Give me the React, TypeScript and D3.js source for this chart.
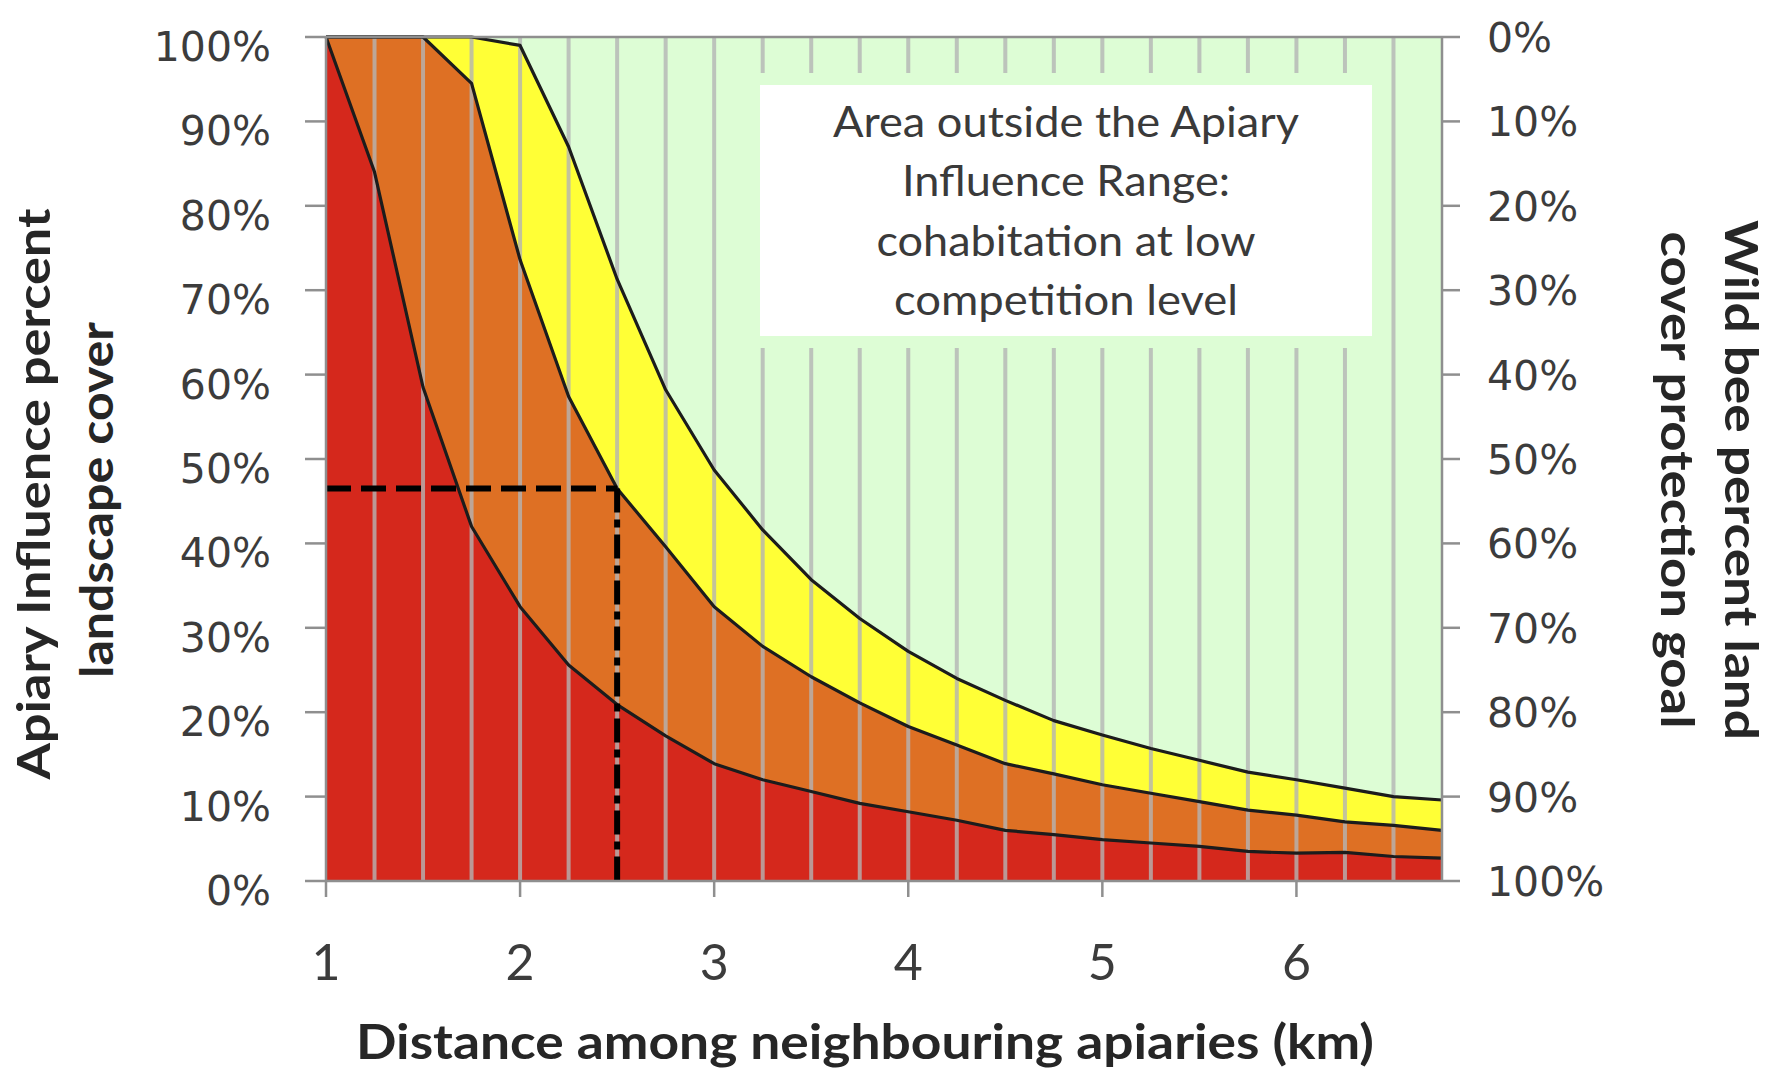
import React from "react";
import * as d3 from "d3";

// ---- data ----
const distances = [1, 1.25, 1.5, 1.75, 2, 2.25, 2.5, 2.75, 3, 3.25, 3.5, 3.75, 4, 4.25, 4.5, 4.75, 5, 5.25, 5.5, 5.75, 6, 6.25, 6.5, 6.75];
// upper boundary of the red band (% cover)
const redTop = [100, 84, 58.5, 42, 32.5, 25.6, 20.9, 17.2, 13.9, 12.0, 10.6, 9.2, 8.2, 7.2, 6.0, 5.5, 4.9, 4.5, 4.1, 3.5, 3.3, 3.4, 2.9, 2.7];
// upper boundary of the orange band
const orangeTop = [100, 100, 100, 94.5, 73.6, 57.4, 46.5, 39.6, 32.5, 27.8, 24.2, 21.1, 18.3, 16.1, 13.9, 12.7, 11.4, 10.4, 9.4, 8.4, 7.8, 7.0, 6.6, 6.0];
// upper boundary of the yellow band
const yellowTop = [100, 100, 100, 100, 99, 87, 71.3, 58.2, 48.7, 41.6, 35.7, 31.1, 27.2, 24.0, 21.4, 19.0, 17.3, 15.7, 14.3, 12.9, 12.0, 11.0, 10.0, 9.6];

const gridDistances = [1.25, 1.5, 1.75, 2, 2.25, 2.5, 2.75, 3, 3.25, 3.5, 3.75, 4, 4.25, 4.5, 4.75, 5, 5.25, 5.5, 5.75, 6, 6.25, 6.5];
const xTicks = [1, 2, 3, 4, 5, 6];
const yTicks = [0, 10, 20, 30, 40, 50, 60, 70, 80, 90, 100];
const markerDistance = 2.5;
const markerCover = 46.5;

const xTitle = "Distance among neighbouring apiaries (km)";
const yLeftTitle = ["Apiary Influence percent", "landscape cover"];
const yRightTitle = ["Wild bee percent land", "cover protection goal"];
const boxLines = ["Area outside the Apiary", "Influence Range:", "cohabitation at low", "competition level"];

const COLORS = {
  red: "#d5281c",
  orange: "#de7024",
  yellow: "#ffff36",
  green: "#ddfdd5",
};

export default function App() {
  const W = 1773;
  const H = 1080;
  const left = 326, right = 1442, top = 37, bottom = 881;

  const x = d3.scaleLinear().domain([1, 6.75]).range([left, right]);
  const y = d3.scaleLinear().domain([0, 100]).range([bottom, top]);

  const rows = distances.map((d, i) => ({ d, r: redTop[i], o: orangeTop[i], yl: yellowTop[i] }));

  const areaRed = d3.area<any>().x((p) => x(p.d)).y0(() => y(0)).y1((p) => y(p.r))(rows) || "";
  const areaOrange = d3.area<any>().x((p) => x(p.d)).y0((p) => y(p.r)).y1((p) => y(p.o))(rows) || "";
  const areaYellow = d3.area<any>().x((p) => x(p.d)).y0((p) => y(p.o)).y1((p) => y(p.yl))(rows) || "";

  const lineR = d3.line<any>().x((p) => x(p.d)).y((p) => y(p.r))(rows) || "";
  const lineO = d3.line<any>().x((p) => x(p.d)).y((p) => y(p.o))(rows) || "";
  const lineY = d3.line<any>().x((p) => x(p.d)).y((p) => y(p.yl))(rows) || "";

  const tickColor = "#8f8f8f";
  const labelColor = "#3c3c3c";

  const boxX = 760, boxY = 85, boxW = 612, boxH = 251;
  const boxCx = boxX + boxW / 2;

  return (
    <svg
      width={W}
      height={H}
      viewBox={`0 0 ${W} ${H}`}
      style={{ position: "absolute", left: 0, top: 0, background: "#ffffff" }}
    >
      {/* plot background */}
      <rect x={left} y={top} width={right - left} height={bottom - top} fill={COLORS.green} />

      {/* stacked bands */}
      <path d={areaYellow} fill={COLORS.yellow} />
      <path d={areaOrange} fill={COLORS.orange} />
      <path d={areaRed} fill={COLORS.red} />

      {/* vertical gridlines */}
      {gridDistances.map((g) => (
        <line
          key={g}
          x1={x(g)}
          x2={x(g)}
          y1={top}
          y2={bottom}
          stroke="#b4b4b4"
          strokeOpacity={0.8}
          strokeWidth={4}
        />
      ))}

      {/* boundary lines */}
      <path d={lineR} fill="none" stroke="#1c1c1c" strokeWidth={3.2} strokeLinejoin="round" />
      <path d={lineO} fill="none" stroke="#1c1c1c" strokeWidth={3.2} strokeLinejoin="round" />
      <path d={lineY} fill="none" stroke="#1c1c1c" strokeWidth={3.2} strokeLinejoin="round" />

      {/* dashed marker lines */}
      <line
        x1={x(1)}
        x2={x(markerDistance)}
        y1={y(markerCover)}
        y2={y(markerCover)}
        stroke="#000"
        strokeWidth={6}
        strokeDasharray="25 10"
      />
      <line
        x1={x(markerDistance)}
        x2={x(markerDistance)}
        y1={y(markerCover)}
        y2={y(0) + 2}
        stroke="#000"
        strokeWidth={6}
        strokeDasharray="24 7 8 7"
      />

      {/* text box */}
      <rect x={boxX} y={boxY} width={boxW} height={boxH} fill="#ffffff" stroke={COLORS.green} strokeWidth={24} />
      <rect x={boxX} y={boxY} width={boxW} height={boxH} fill="#ffffff" />
      {boxLines.map((t, i) => {
        const widths = [466, 328, 379, 344];
        return (
          <text
            key={t}
            x={boxCx}
            y={137 + i * 59.3}
            textAnchor="middle"
            fontFamily="Lato, 'Open Sans', sans-serif"
            fontSize={42}
            fill="#3a3a3a"
            textLength={widths[i]}
            lengthAdjust="spacingAndGlyphs"
          >
            {t}
          </text>
        );
      })}

      {/* frame */}
      <line x1={left} x2={right} y1={top} y2={top} stroke={tickColor} strokeWidth={2.5} />
      <line x1={right} x2={right} y1={top} y2={bottom} stroke={tickColor} strokeWidth={2.5} />
      <line x1={left} x2={left} y1={top} y2={bottom + 1} stroke={tickColor} strokeWidth={2.5} />
      <line x1={left} x2={right} y1={bottom} y2={bottom} stroke={tickColor} strokeWidth={2.5} />

      {/* left axis */}
      {yTicks.map((t) => (
        <g key={"l" + t}>
          <line x1={left - 21} x2={left} y1={y(t)} y2={y(t)} stroke={tickColor} strokeWidth={2.5} />
          <text
            x={271}
            y={y(t) + 24}
            textAnchor="end"
            fontFamily="'DejaVu Sans', Verdana, sans-serif"
            fontSize={41}
            fill={labelColor}
          >
            {`${t}%`}
          </text>
        </g>
      ))}

      {/* right axis (inverted) */}
      {yTicks.map((t) => (
        <g key={"r" + t}>
          <line x1={right} x2={right + 18} y1={y(t)} y2={y(t)} stroke={tickColor} strokeWidth={2.5} />
          <text
            x={1487}
            y={y(t) + 15}
            textAnchor="start"
            fontFamily="'DejaVu Sans', Verdana, sans-serif"
            fontSize={41}
            fill={labelColor}
          >
            {`${100 - t}%`}
          </text>
        </g>
      ))}

      {/* x axis */}
      {xTicks.map((t) => (
        <g key={"x" + t}>
          <line x1={x(t)} x2={x(t)} y1={bottom} y2={bottom + 16} stroke={tickColor} strokeWidth={2.5} />
          <text
            x={x(t)}
            y={980}
            textAnchor="middle"
            fontFamily="Lato, 'Open Sans', sans-serif"
            fontSize={50}
            fill={labelColor}
          >
            {t}
          </text>
        </g>
      ))}

      {/* axis titles */}
      <text
        x={865}
        y={1059}
        textAnchor="middle"
        fontFamily="Lato, 'Open Sans', sans-serif"
        fontWeight={700}
        fontSize={47}
        fill="#262626"
        textLength={1018}
        lengthAdjust="spacingAndGlyphs"
      >
        {xTitle}
      </text>

      <g transform="translate(50,494) rotate(-90)">
        <text
          x={0}
          y={0}
          textAnchor="middle"
          fontFamily="Lato, 'Open Sans', sans-serif"
          fontWeight={700}
          fontSize={46}
          fill="#262626"
          textLength={571}
          lengthAdjust="spacingAndGlyphs"
        >
          {yLeftTitle[0]}
        </text>
      </g>
      <g transform="translate(113,500) rotate(-90)">
        <text
          x={0}
          y={0}
          textAnchor="middle"
          fontFamily="Lato, 'Open Sans', sans-serif"
          fontWeight={700}
          fontSize={46}
          fill="#262626"
          textLength={356}
          lengthAdjust="spacingAndGlyphs"
        >
          {yLeftTitle[1]}
        </text>
      </g>

      <g transform="translate(1725,480) rotate(90)">
        <text
          x={0}
          y={0}
          textAnchor="middle"
          fontFamily="Lato, 'Open Sans', sans-serif"
          fontWeight={700}
          fontSize={46}
          fill="#262626"
          textLength={520}
          lengthAdjust="spacingAndGlyphs"
        >
          {yRightTitle[0]}
        </text>
      </g>
      <g transform="translate(1661,480) rotate(90)">
        <text
          x={0}
          y={0}
          textAnchor="middle"
          fontFamily="Lato, 'Open Sans', sans-serif"
          fontWeight={700}
          fontSize={46}
          fill="#262626"
          textLength={497}
          lengthAdjust="spacingAndGlyphs"
        >
          {yRightTitle[1]}
        </text>
      </g>
    </svg>
  );
}
